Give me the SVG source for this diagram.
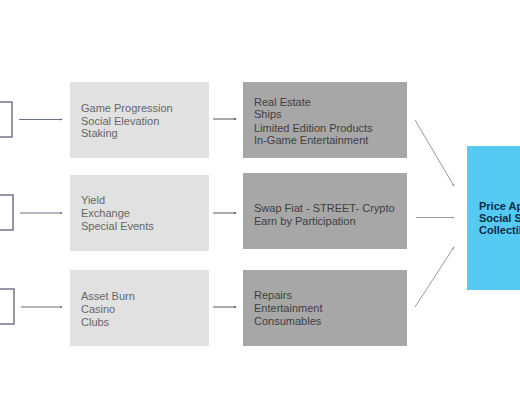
<svg xmlns="http://www.w3.org/2000/svg" width="520" height="400" viewBox="0 0 520 400">
<defs>
<marker id="ah" viewBox="0 0 4 4" refX="3" refY="2" markerWidth="4" markerHeight="4" markerUnits="userSpaceOnUse" orient="auto"><path d="M0,0.5 L4,2 L0,3.5 z" fill="context-stroke"/></marker>
<marker id="ah1" viewBox="0 0 4 4" refX="3" refY="2" markerWidth="3" markerHeight="3" markerUnits="userSpaceOnUse" orient="auto"><path d="M0,0.5 L4,2 L0,3.5 z" fill="#6a6f82"/></marker>
<marker id="ah2" viewBox="0 0 4 4" refX="3" refY="2" markerWidth="3" markerHeight="3" markerUnits="userSpaceOnUse" orient="auto"><path d="M0,0.5 L4,2 L0,3.5 z" fill="#555"/></marker>
<marker id="ah3" viewBox="0 0 4 4" refX="3" refY="2" markerWidth="3" markerHeight="3" markerUnits="userSpaceOnUse" orient="auto"><path d="M0,0.5 L4,2 L0,3.5 z" fill="#999"/></marker>
</defs>
<style>
.src{fill:#fff;stroke:#5a6078;stroke-width:1.3}
.lt{fill:#e1e1e1}
.dk{fill:#a7a7a7}
.bl{fill:#55caf3}
.t1{font-family:"Liberation Sans",Arial,sans-serif;font-size:11px;fill:#666}
.t2{font-family:"Liberation Sans",Arial,sans-serif;font-size:11px;fill:#3f3f3f}
.t3{font-family:"Liberation Sans",Arial,sans-serif;font-size:11px;font-weight:bold;fill:#0c2c48}
.a1{stroke:#6a6f82;stroke-width:1;fill:none;marker-end:url(#ah1)}
.a2{stroke:#555;stroke-width:1;fill:none;marker-end:url(#ah2)}
.a3{stroke:#9a9a9a;stroke-width:1;fill:none;marker-end:url(#ah3)}
</style>
<rect width="520" height="400" fill="#fff"/>
<g id="src1"><rect class="src" x="-10" y="102" width="22" height="35"/></g>
<g id="src2"><rect class="src" x="-10" y="195" width="23" height="35"/></g>
<g id="src3"><rect class="src" x="-10" y="289" width="24" height="35"/></g>
<g id="mid1"><rect class="lt" x="70" y="82" width="139" height="76"/>
<text class="t1" x="81" y="112">Game Progression</text><text class="t1" x="81" y="125">Social Elevation</text><text class="t1" x="81" y="137">Staking</text></g>
<g id="mid2"><rect class="lt" x="70" y="175" width="139" height="76"/>
<text class="t1" x="81" y="204">Yield</text><text class="t1" x="81" y="217">Exchange</text><text class="t1" x="81" y="230">Special Events</text></g>
<g id="mid3"><rect class="lt" x="70" y="270" width="139" height="76"/>
<text class="t1" x="81" y="300">Asset Burn</text><text class="t1" x="81" y="313">Casino</text><text class="t1" x="81" y="326">Clubs</text></g>
<g id="out1"><rect class="dk" x="243" y="82" width="164" height="76"/>
<text class="t2" x="254" y="106">Real Estate</text><text class="t2" x="254" y="118">Ships</text><text class="t2" x="254" y="131.5">Limited Edition Products</text><text class="t2" x="254" y="144">In-Game Entertainment</text></g>
<g id="out2"><rect class="dk" x="243" y="173" width="164" height="76"/>
<text class="t2" x="254" y="212">Swap Fiat - STREET- Crypto</text><text class="t2" x="254" y="225">Earn by Participation</text></g>
<g id="out3"><rect class="dk" x="243" y="270" width="164" height="76"/>
<text class="t2" x="254" y="299">Repairs</text><text class="t2" x="254" y="312">Entertainment</text><text class="t2" x="254" y="325">Consumables</text></g>
<g id="goal"><rect class="bl" x="467" y="146" width="60" height="144"/>
<text class="t3" x="479" y="210">Price Appreciation</text><text class="t3" x="479" y="222">Social Status</text><text class="t3" x="479" y="234">Collectibles</text></g>
<g id="connectors">
<line class="a1" x1="19" y1="119.5" x2="62" y2="119.5"/>
<line class="a1" x1="20" y1="213" x2="62" y2="213"/>
<line class="a1" x1="21" y1="307" x2="62" y2="307"/>
<line class="a2" x1="213" y1="119" x2="236" y2="119"/>
<line class="a2" x1="213" y1="213" x2="236" y2="213"/>
<line class="a2" x1="213" y1="307" x2="236" y2="307"/>
<line class="a3" x1="415" y1="120" x2="454" y2="186"/>
<line class="a3" x1="416" y1="217.5" x2="454" y2="217.5"/>
<line class="a3" x1="415" y1="307" x2="454" y2="247"/>
</g>
</svg>
